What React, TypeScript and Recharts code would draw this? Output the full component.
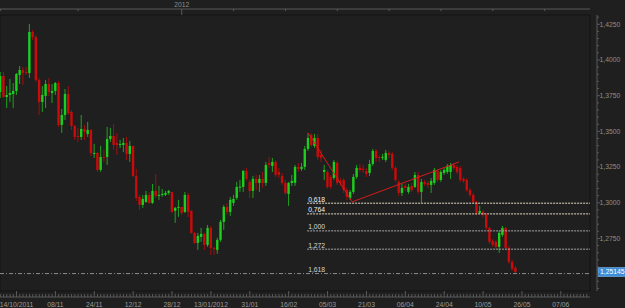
import React from 'react';
import { ComposedChart, Bar, XAxis, YAxis, CartesianGrid, ReferenceLine, ReferenceArea } from 'recharts';

// daily EUR/USD candles
const opens = [
  1.3776, 1.3888, 1.3741, 1.3755, 1.3762, 1.3783, 1.3895, 1.3930, 1.3916, 1.3909,
  1.4196, 1.4161, 1.3860, 1.3706, 1.3748, 1.3832, 1.3769, 1.3783, 1.3839, 1.3545,
  1.3615, 1.3762, 1.3636, 1.3538, 1.3468, 1.3461, 1.3517, 1.3482, 1.3510, 1.3342,
  1.3349, 1.3230, 1.3321, 1.3321, 1.3447, 1.3468, 1.3419, 1.3412, 1.3405, 1.3419,
  1.3342, 1.3398, 1.3188, 1.3041, 1.2985, 1.3006, 1.3055, 1.2999, 1.3083, 1.3048,
  1.3055, 1.3055, 1.3069, 1.3076, 1.2943, 1.2964, 1.2971, 1.2936, 1.3055, 1.2943,
  1.2789, 1.2719, 1.2761, 1.2782, 1.2705, 1.2824, 1.2684, 1.2670, 1.2740, 1.2866,
  1.2971, 1.2936, 1.2999, 1.3034, 1.3111, 1.3111, 1.3223, 1.3146, 1.3083, 1.3167,
  1.3139, 1.3167, 1.3139, 1.3279, 1.3258, 1.3286, 1.3216, 1.3188, 1.3139, 1.3062,
  1.3139, 1.3139, 1.3251, 1.3237, 1.3251, 1.3377, 1.3475, 1.3398, 1.3454, 1.3335,
  1.3216, 1.3216, 1.3181, 1.3174, 1.3279, 1.3153, 1.3160, 1.3090, 1.3034, 1.3076,
  1.3181, 1.3244, 1.3237, 1.3223, 1.3209, 1.3272, 1.3363, 1.3321, 1.3314, 1.3300,
  1.3349, 1.3342, 1.3244, 1.3146, 1.3069, 1.3118, 1.3076, 1.3118, 1.3111, 1.3195,
  1.3076, 1.3146, 1.3139, 1.3125, 1.3139, 1.3223, 1.3160, 1.3209, 1.3216, 1.3216,
  1.3265, 1.3251, 1.3244, 1.3167, 1.3160, 1.3090, 1.3055, 1.3006, 1.2929, 1.2936,
  1.2915, 1.2824, 1.2733, 1.2726, 1.2691, 1.2775, 1.2824, 1.2684, 1.2586, 1.2544,
];
const highs = [
  1.3916, 1.3916, 1.3818, 1.3867, 1.3839, 1.3909, 1.3958, 1.3951, 1.3951, 1.4252,
  1.4210, 1.4175, 1.3874, 1.3818, 1.3860, 1.3874, 1.3832, 1.3846, 1.3853, 1.3657,
  1.3797, 1.3818, 1.3650, 1.3545, 1.3524, 1.3615, 1.3545, 1.3566, 1.3517, 1.3412,
  1.3356, 1.3398, 1.3370, 1.3531, 1.3524, 1.3552, 1.3489, 1.3440, 1.3454, 1.3461,
  1.3433, 1.3398, 1.3237, 1.3055, 1.3055, 1.3083, 1.3076, 1.3132, 1.3202, 1.3118,
  1.3097, 1.3083, 1.3090, 1.3076, 1.2971, 1.3020, 1.2971, 1.3076, 1.3069, 1.2950,
  1.2796, 1.2789, 1.2824, 1.2789, 1.2845, 1.2838, 1.2691, 1.2754, 1.2880, 1.2985,
  1.2999, 1.3041, 1.3055, 1.3146, 1.3160, 1.3230, 1.3244, 1.3160, 1.3188, 1.3195,
  1.3195, 1.3216, 1.3286, 1.3321, 1.3314, 1.3300, 1.3244, 1.3209, 1.3160, 1.3146,
  1.3195, 1.3265, 1.3279, 1.3279, 1.3398, 1.3489, 1.3489, 1.3482, 1.3482, 1.3370,
  1.3265, 1.3230, 1.3195, 1.3300, 1.3293, 1.3174, 1.3174, 1.3104, 1.3090, 1.3202,
  1.3265, 1.3272, 1.3265, 1.3244, 1.3300, 1.3377, 1.3377, 1.3335, 1.3342, 1.3370,
  1.3363, 1.3356, 1.3258, 1.3160, 1.3132, 1.3139, 1.3132, 1.3139, 1.3216, 1.3216,
  1.3167, 1.3160, 1.3153, 1.3174, 1.3244, 1.3237, 1.3230, 1.3244, 1.3272, 1.3279,
  1.3279, 1.3265, 1.3258, 1.3181, 1.3174, 1.3104, 1.3069, 1.3013, 1.2978, 1.2950,
  1.2929, 1.2831, 1.2747, 1.2740, 1.2803, 1.2838, 1.2831, 1.2698, 1.2600, 1.2558,
];
const lows = [
  1.3734, 1.3734, 1.3664, 1.3706, 1.3664, 1.3755, 1.3832, 1.3825, 1.3895, 1.3874,
  1.4140, 1.3846, 1.3615, 1.3636, 1.3664, 1.3748, 1.3699, 1.3755, 1.3531, 1.3489,
  1.3580, 1.3615, 1.3510, 1.3440, 1.3426, 1.3440, 1.3440, 1.3461, 1.3328, 1.3314,
  1.3216, 1.3216, 1.3286, 1.3265, 1.3426, 1.3370, 1.3335, 1.3384, 1.3356, 1.3300,
  1.3286, 1.3181, 1.3013, 1.2950, 1.2964, 1.2999, 1.2992, 1.2992, 1.3034, 1.3020,
  1.3041, 1.3048, 1.3055, 1.2929, 1.2859, 1.2901, 1.2915, 1.2929, 1.2901, 1.2782,
  1.2712, 1.2670, 1.2726, 1.2670, 1.2691, 1.2635, 1.2635, 1.2642, 1.2726, 1.2810,
  1.2915, 1.2908, 1.2978, 1.3020, 1.3076, 1.3076, 1.3153, 1.3034, 1.3034, 1.3090,
  1.3076, 1.3104, 1.3118, 1.3244, 1.3216, 1.3181, 1.3174, 1.3125, 1.3055, 1.2978,
  1.3118, 1.3118, 1.3216, 1.3223, 1.3230, 1.3363, 1.3391, 1.3384, 1.3300, 1.3286,
  1.3160, 1.3097, 1.3097, 1.3160, 1.3125, 1.3118, 1.3069, 1.3020, 1.3020, 1.3062,
  1.3167, 1.3216, 1.3209, 1.3181, 1.3188, 1.3258, 1.3286, 1.3286, 1.3300, 1.3286,
  1.3314, 1.3230, 1.3146, 1.3048, 1.3048, 1.3083, 1.3062, 1.3076, 1.3104, 1.3062,
  1.2999, 1.3118, 1.3104, 1.3069, 1.3125, 1.3146, 1.3146, 1.3195, 1.3202, 1.3167,
  1.3230, 1.3202, 1.3146, 1.3139, 1.3076, 1.3041, 1.2992, 1.2915, 1.2922, 1.2901,
  1.2810, 1.2712, 1.2691, 1.2677, 1.2649, 1.2761, 1.2670, 1.2572, 1.2523, 1.2502,
];
const closes = [
  1.3888, 1.3741, 1.3755, 1.3769, 1.3783, 1.3902, 1.3930, 1.3909, 1.3909, 1.4196,
  1.4161, 1.3860, 1.3706, 1.3755, 1.3832, 1.3776, 1.3783, 1.3839, 1.3545, 1.3615,
  1.3762, 1.3629, 1.3538, 1.3461, 1.3461, 1.3517, 1.3496, 1.3510, 1.3349, 1.3349,
  1.3230, 1.3321, 1.3314, 1.3447, 1.3468, 1.3405, 1.3405, 1.3412, 1.3419, 1.3342,
  1.3398, 1.3188, 1.3034, 1.2985, 1.3027, 1.3055, 1.2999, 1.3083, 1.3048, 1.3055,
  1.3062, 1.3069, 1.3083, 1.2936, 1.2964, 1.2971, 1.2929, 1.3055, 1.2936, 1.2789,
  1.2719, 1.2768, 1.2782, 1.2705, 1.2824, 1.2684, 1.2677, 1.2740, 1.2866, 1.2971,
  1.2936, 1.3020, 1.3027, 1.3111, 1.3113, 1.3223, 1.3167, 1.3083, 1.3167, 1.3139,
  1.3167, 1.3139, 1.3265, 1.3265, 1.3286, 1.3195, 1.3195, 1.3139, 1.3069, 1.3139,
  1.3153, 1.3251, 1.3237, 1.3251, 1.3377, 1.3454, 1.3405, 1.3454, 1.3321, 1.3314,
  1.3230, 1.3111, 1.3111, 1.3286, 1.3139, 1.3139, 1.3090, 1.3041, 1.3076, 1.3181,
  1.3244, 1.3230, 1.3230, 1.3202, 1.3272, 1.3363, 1.3314, 1.3314, 1.3321, 1.3349,
  1.3335, 1.3244, 1.3160, 1.3069, 1.3104, 1.3104, 1.3111, 1.3090, 1.3195, 1.3076,
  1.3146, 1.3132, 1.3125, 1.3153, 1.3230, 1.3160, 1.3216, 1.3230, 1.3258, 1.3265,
  1.3244, 1.3216, 1.3160, 1.3153, 1.3090, 1.3055, 1.3006, 1.2929, 1.2943, 1.2915,
  1.2824, 1.2726, 1.2705, 1.2691, 1.2789, 1.2824, 1.2684, 1.2586, 1.2537, 1.25145,
];

const dateLabels = ['14/10/2011', '08/11', '24/11', '12/12', '28/12', '13/01/2012', '31/01', '16/02',
  '05/03', '21/03', '06/04', '24/04', '10/05', '26/05', '07/06'];
const dateBars = [5, 17, 29, 41, 53, 65, 77, 89, 101, 113, 125, 137, 149, 161, 173];
const topTickBars = [0, 24, 56, 72, 88, 104, 120, 136, 152, 168];
const yearBar = 56;
const yearLabel = '2012';

const priceLabels = [1.275, 1.3, 1.325, 1.35, 1.375, 1.4, 1.425];
const gridPrices = [1.25, 1.275, 1.3, 1.325, 1.35, 1.375, 1.4, 1.425];

const fibLabels = ['0,618', '0,764', '1,000', '1,272', '1,618'];
const fibPrices = [1.2997, 1.2922, 1.2803, 1.2675, 1.2504];
const fibStartBar = 94.7;

const trendBars = [95, 108.6, 141.6];
const trendPrices = [1.3489, 1.3006, 1.3286];

const lastPrice = 1.25145;

const xDomain: [number, number] = [-0.1, 182];
const yDomain: [number, number] = [1.2382, 1.4315];

const candles = opens.map((open, i) => ({ i, open, high: highs[i], low: lows[i], close: closes[i] }));

// minor ticks: one per bar on the time axis, every 0.005 on the price axis
const barTicks = Array.from({ length: 182 }, (_, i) => i);
const priceTicks = Array.from({ length: 39 }, (_, k) => Math.round((1.24 + k * 0.005) * 10000) / 10000);

const FONT = '"Liberation Sans", Arial, sans-serif';
const AXIS = '#5a5a5a';

const Candle = (props: any) => {
  const { x, y, width, height, payload } = props;
  if (x == null || payload == null) return null;
  const { open, high, low, close } = payload;
  const color = close >= open ? '#1dcf1d' : '#cc0a0a';
  const cx = x + width / 2;
  const k = high > low ? height / (high - low) : 0;
  const top = y + (high - Math.max(open, close)) * k;
  const bot = y + (high - Math.min(open, close)) * k;
  return (
    <g>
      <rect x={cx - 0.5} y={y} width={1} height={Math.max(1, height)} fill={color} opacity={0.75} />
      <rect x={cx - 1.2} y={top} width={2.4} height={Math.max(1, bot - top)} fill={color} />
    </g>
  );
};

const BottomTick = (props: any) => {
  const { x, y, payload } = props;
  const k = dateBars.indexOf(payload.value);
  const major = k >= 0;
  return (
    <g>
      <line x1={x} x2={x} y1={y} y2={y - (major ? 6 : 3)} stroke={AXIS} />
      {major && (
        <text x={x} y={y + 9.5} textAnchor="middle" fill="#9a9a9a" fontSize={6.8} fontFamily={FONT}>
          {dateLabels[k]}
        </text>
      )}
    </g>
  );
};

const TopTick = (props: any) => {
  const { x, y, payload } = props;
  const isYear = payload.value === yearBar;
  return (
    <g>
      <line x1={x} x2={x} y1={y} y2={y + (isYear ? 6 : 2)} stroke={AXIS} />
      {isYear && (
        <text x={x} y={y - 1.8} textAnchor="middle" fill="#8a8a8a" fontSize={6.8} fontFamily={FONT}>
          {yearLabel}
        </text>
      )}
    </g>
  );
};

const PriceTick = (props: any) => {
  const { x, y, payload } = props;
  const v = payload.value;
  const major = Math.abs(v * 40 - Math.round(v * 40)) < 1e-6;
  const labelled = priceLabels.some((p) => Math.abs(p - v) < 1e-6);
  return (
    <g>
      <line x1={x} x2={x + (major ? 3 : 2)} y1={y} y2={y} stroke={AXIS} />
      {labelled && (
        <text x={x + 2.5} y={y + 2.4} fill="#8e8e8e" fontSize={6.8} fontFamily={FONT}>
          {v.toFixed(4).replace('.', ',')}
        </text>
      )}
    </g>
  );
};

const fibLabel = (text: string, color: string) => (props: any) => {
  const vb = props.viewBox || {};
  return (
    <text x={vb.x + 1} y={vb.y - 1.6} fill={color} fontSize={6.8} fontFamily={FONT}>
      {text}
    </text>
  );
};

const PriceBox = (props: any) => {
  const vb = props.viewBox || {};
  const left = vb.x + vb.width + 8;
  return (
    <g>
      <rect x={left} y={vb.y - 4.5} width={28} height={9} fill="#3d8ed8" stroke="#7fb8ea" strokeWidth={0.6} />
      <text x={left + 2} y={vb.y + 2.4} fill="#ffffff" fontSize={6.8} fontFamily={FONT}>
        {lastPrice.toFixed(5).replace('.', ',')}
      </text>
    </g>
  );
};

const fibColors = ['#e4dcc4', '#e4dcc4', '#a8a8a8', '#a8a8a8', '#8c8c8c'];
const fibTextColors = ['#f2f2f2', '#f2f2f2', '#dadada', '#dadada', '#d0d0d0'];

export default function App() {
  return (
    <div style={{ position: 'absolute', left: 0, top: 0, width: 625, height: 308, background: '#1f1f1f' }}>
      <ComposedChart width={625} height={308} data={candles} margin={{ top: 0, right: 0, bottom: 0, left: 0 }}>
        {/* spacer axes (ids sort first) keep the drawn axes a few px away from the plot frame */}
        <XAxis xAxisId="a_pad" dataKey="i" type="number" domain={xDomain} allowDataOverflow orientation="bottom"
          height={6} ticks={dateBars} tick={false} tickLine={false} axisLine={false} />
        <XAxis xAxisId="b_main" dataKey="i" type="number" domain={xDomain} allowDataOverflow orientation="bottom"
          height={11} ticks={barTicks} interval={0} tick={<BottomTick />} tickLine={false} tickSize={0} tickMargin={0}
          axisLine={{ stroke: AXIS }} />
        <XAxis xAxisId="c_tpad" dataKey="i" type="number" domain={xDomain} allowDataOverflow orientation="top"
          height={6} tick={false} tickLine={false} axisLine={false} />
        <XAxis xAxisId="d_top" dataKey="i" type="number" domain={xDomain} allowDataOverflow orientation="top"
          height={9} ticks={topTickBars} interval={0} tick={<TopTick />} tickLine={false} tickSize={0} tickMargin={0}
          axisLine={{ stroke: AXIS }} />
        <YAxis yAxisId="a_pad" type="number" domain={yDomain} allowDataOverflow orientation="right" width={7}
          ticks={gridPrices} tick={false} tickLine={false} axisLine={false} />
        <YAxis yAxisId="b_price" type="number" domain={yDomain} allowDataOverflow orientation="right" width={28}
          ticks={priceTicks} interval={0} tick={<PriceTick />} tickLine={false} tickSize={0} tickMargin={0}
          axisLine={{ stroke: AXIS }} />

        <CartesianGrid xAxisId="a_pad" yAxisId="a_pad" stroke="#303030" />
        <ReferenceArea xAxisId="b_main" yAxisId="b_price" x1={xDomain[0]} x2={xDomain[1]} y1={yDomain[0]} y2={yDomain[1]}
          fill="none" stroke="#0c0c0c" ifOverflow="visible" />

        <Bar xAxisId="b_main" yAxisId="b_price" dataKey={(d: any) => [d.low, d.high]} barSize={3}
          shape={<Candle />} isAnimationActive={false} />

        {fibPrices.map((p, k) => (
          <ReferenceLine key={fibLabels[k]} xAxisId="b_main" yAxisId="b_price"
            segment={[{ x: k === 4 ? xDomain[0] : fibStartBar, y: p }, { x: xDomain[1], y: p }]}
            stroke={fibColors[k]} strokeDasharray={k === 4 ? '4 2 1 2' : '2 1'} />
        ))}
        {fibPrices.map((p, k) => (
          <ReferenceLine key={'l' + fibLabels[k]} xAxisId="b_main" yAxisId="b_price"
            segment={[{ x: fibStartBar, y: p }, { x: xDomain[1], y: p }]} stroke="none"
            label={fibLabel(fibLabels[k], fibTextColors[k])} />
        ))}

        <ReferenceLine xAxisId="b_main" yAxisId="b_price" stroke="#d41c1c"
          segment={[{ x: trendBars[0], y: trendPrices[0] }, { x: trendBars[1], y: trendPrices[1] }]} />
        <ReferenceLine xAxisId="b_main" yAxisId="b_price" stroke="#d41c1c"
          segment={[{ x: trendBars[1], y: trendPrices[1] }, { x: trendBars[2], y: trendPrices[2] }]} />

        <ReferenceLine xAxisId="b_main" yAxisId="b_price" y={lastPrice} stroke="none" label={<PriceBox />} />
      </ComposedChart>
    </div>
  );
}
